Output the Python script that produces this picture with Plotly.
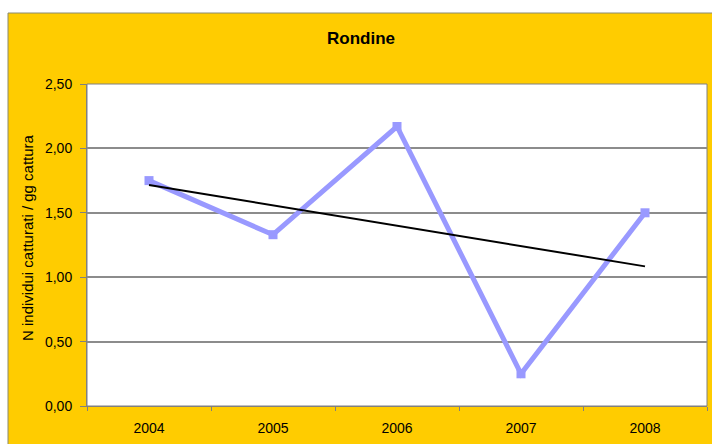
import numpy as np
import plotly.graph_objects as go

years = ["2004", "2005", "2006", "2007", "2008"]
values = [1.75, 1.33, 2.17, 0.25, 1.50]
y_ticks = [0, 0.5, 1.0, 1.5, 2.0, 2.5]

# linear trendline computed from the data
xi = np.arange(len(values))
slope, intercept = np.polyfit(xi, values, 1)
trend = list(intercept + slope * xi)

L, R, T, B = 87, 5, 84, 38
W, H = 712, 444
pw, ph = W - L - R, H - T - B

fig = go.Figure()
fig.add_trace(go.Scatter(
    x=years, y=values, mode="lines+markers",
    line=dict(color="#9999FF", width=5),
    marker=dict(symbol="square", size=9, color="#9999FF"),
    showlegend=False, hoverinfo="skip"))
fig.add_trace(go.Scatter(
    x=years, y=trend, mode="lines",
    line=dict(color="#000000", width=2),
    showlegend=False, hoverinfo="skip"))

def px_x(p):
    return (p - L) / pw

def px_y(p):
    return (H - B - p) / ph

shapes = [
    dict(type="rect", xref="paper", yref="paper", layer="below",
         x0=px_x(8), x1=px_x(730), y0=px_y(460), y1=px_y(13),
         fillcolor="#FFCC00", line=dict(color="#8a8a70", width=1)),
    dict(type="rect", xref="paper", yref="paper", layer="below",
         x0=0, x1=1, y0=0, y1=1,
         fillcolor="#FFFFFF", line=dict(color="#808080", width=1)),
]

font = "Liberation Sans, Arial, sans-serif"
fig.update_layout(
    width=W, height=H,
    margin=dict(l=L, r=R, t=T, b=B, pad=0),
    paper_bgcolor="#FFFFFF", plot_bgcolor="rgba(0,0,0,0)",
    separators=",.",
    shapes=shapes,
    font=dict(family=font, size=14, color="#000000"),
    annotations=[
        dict(text="<b>Rondine</b>", xref="paper", yref="paper",
             x=px_x(361), y=px_y(38), showarrow=False,
             font=dict(family=font, size=17, color="#000000"),
             xanchor="center", yanchor="middle"),
        dict(text="N individui catturati / gg cattura", xref="paper", yref="paper",
             x=px_x(27), y=px_y(238), showarrow=False, textangle=-90,
             font=dict(family=font, size=15, color="#000000"),
             xanchor="center", yanchor="middle"),
    ],
    xaxis=dict(type="category", categoryorder="array", categoryarray=years,
               range=[-0.5, len(years) - 0.5],
               showgrid=False, zeroline=False,
               showline=True, linecolor="#808080", linewidth=1,
               ticks="outside", tickson="boundaries", ticklen=4,
               tickcolor="#808080", tickfont=dict(size=14),
               ticklabelstandoff=9),
    yaxis=dict(range=[0, 2.5], tickvals=y_ticks, tickformat=".2f",
               showgrid=True, gridcolor="#8c8c8c", gridwidth=1.5,
               zeroline=False, showline=True, linecolor="#808080", linewidth=1,
               ticks="outside", ticklen=6, tickcolor="#808080",
               tickfont=dict(size=14), ticklabelstandoff=5),
)

fig.write_html("out.html")
